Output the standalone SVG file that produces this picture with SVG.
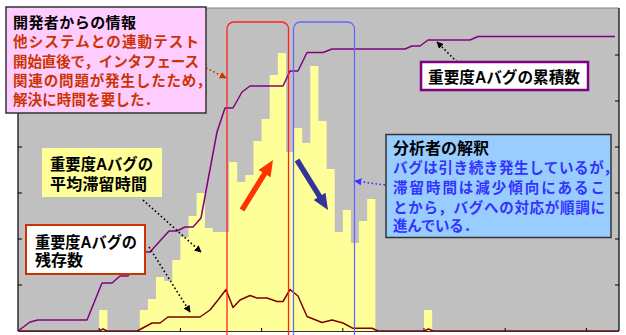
<svg xmlns="http://www.w3.org/2000/svg" width="626" height="335" viewBox="0 0 626 335">
<style>
.t{font-family:"Liberation Sans","Noto Sans CJK JP",sans-serif;font-weight:bold;}
.bar{fill:#FFFF99;}
.tick{stroke:#000;stroke-width:1;}
.dot{fill:none;stroke-width:1.6;stroke-dasharray:1.6 2.4;}
</style>
<defs>
<marker id="ak" viewBox="0 0 10 10" refX="9" refY="5" markerUnits="userSpaceOnUse" markerWidth="7" markerHeight="7" orient="auto"><path d="M0,0 L10,5 L0,10 z" fill="#000"/></marker>
<marker id="ao" viewBox="0 0 10 10" refX="9" refY="5" markerUnits="userSpaceOnUse" markerWidth="7" markerHeight="7" orient="auto"><path d="M0,0 L10,5 L0,10 z" fill="#CC3300"/></marker>
<marker id="ab" viewBox="0 0 10 10" refX="9" refY="5" markerUnits="userSpaceOnUse" markerWidth="7" markerHeight="7" orient="auto"><path d="M0,0 L10,5 L0,10 z" fill="#3333FF"/></marker>
</defs>
<rect width="626" height="335" fill="#fff"/>
<g id="chart">
<rect x="18" y="8" width="601" height="323" fill="#C0C0C0"/>
<g id="bars">
<rect class="bar" x="99.2" y="310" width="8.2" height="21"/>
<path class="bar" d="M139.8,331 V310 H147.9 V299 H156.0 V277 H164.2 V281 H172.3 V260 H180.4 V237 H188.5 V216 H196.6 V193 H204.8 V228 H212.9 V232 H229.1 V162 H237.2 V182 H245.4 V175 H253.5 V141 H261.6 V119 H269.7 V75 H277.8 V53 H286.0 V152 H294.1 V128 H302.2 V143 H310.3 V66 H318.4 V121 H326.6 V169 H334.7 V232 H342.8 V210 H350.9 V243 H359.0 V221 H367.2 V199 H375.4 V331 Z"/>
<rect class="bar" x="424.0" y="310" width="8.2" height="21"/>
</g>
<line x1="18" y1="8" x2="619" y2="8" stroke="#808080" stroke-width="1"/>
<line x1="18" y1="8" x2="18" y2="331" stroke="#000" stroke-width="1.2"/>
<line x1="619" y1="8" x2="619" y2="331" stroke="#000" stroke-width="1.2"/>
<g id="ticks">
<path class="tick" d="M18,285 h4 M18,239 h4 M18,193 h4 M18,147 h4 M18,101 h4 M18,55 h4 M615,285 h4 M615,239 h4 M615,193 h4 M615,147 h4 M615,101 h4 M615,55 h4 M99.2,331 v-3 M180.4,331 v-3 M261.6,331 v-3 M342.8,331 v-3 M424,331 v-3 M505.2,331 v-3 M586.4,331 v-3"/>
</g>
<polyline id="cumulative" fill="none" stroke="#800080" stroke-width="1.5" stroke-linejoin="round" points="18,331 30,322 38,320 87,320 102,283 112,283 120,276 128,276 138,252 150,252 169,231 177,231 185,227 193,227 201,218 208,180 217,132 225,108 233,108 242,92 250,86 283,86 290,71 298,71 307,52.5 323,52.5 332,49 405,49 412,46 420,46 428,40 470,40 478,36.5 615,36.5"/>
<polyline id="remaining" fill="none" stroke="#800000" stroke-width="1.5" stroke-linejoin="round" points="18,331 99,331 103,329 107,331 137,331 140,329.5 152,323 160,323 168,317 200,317 210,310 218,300 226,289.5 233,307.5 240,300 250,295.5 257,298 267,298 277,301.5 283,301.5 290,289.5 298,296 307,316.5 322,322.5 332,320 343,323 353,328.3 372,328.3 378,331 424,331 428.5,329 433,331 619,331"/>
<line x1="18" y1="331.5" x2="619" y2="331.5" stroke="#333" stroke-width="1"/>
</g>
<g id="highlight-red"><rect x="227" y="22" width="61.5" height="330" rx="7" fill="none" stroke="#FF2020" stroke-width="1.3"/></g>
<g id="highlight-blue"><rect x="293.5" y="22" width="61" height="330" rx="7" fill="none" stroke="#6666FF" stroke-width="1.3"/></g>
<g id="trend-up"><polygon points="244.3,211.4 266.9,175 270.5,177.3 273,160 258.6,169.9 262.3,172.2 239.7,208.6" fill="#FF3300"/></g>
<g id="trend-down"><polygon points="299.3,158.6 321.9,195 325.5,192.7 328,210 313.7,200.1 317.3,197.8 294.7,161.4" fill="#333399"/></g>
<g id="connectors">
<line class="dot" x1="206" y1="68" x2="226" y2="78" stroke="#CC3300" marker-end="url(#ao)"/>
<line class="dot" x1="457" y1="62" x2="437" y2="42" stroke="#000" marker-end="url(#ak)"/>
<line class="dot" x1="143" y1="200" x2="201" y2="252" stroke="#000" marker-end="url(#ak)"/>
<line class="dot" x1="149" y1="247" x2="190" y2="312" stroke="#000" marker-end="url(#ak)"/>
<line class="dot" x1="385" y1="185" x2="355" y2="181" stroke="#3333FF" marker-end="url(#ab)"/>
</g>
<g id="developer-info">
<rect x="6" y="7" width="200" height="106" fill="#FFCCFF" stroke="#333" stroke-width="1.5"/>
<text class="t" x="13" y="27.5" font-size="15" fill="#000" textLength="123" lengthAdjust="spacing">開発者からの情報</text>
<g class="t" font-size="14.5" fill="#CC3300">
<text x="13" y="47" textLength="186" lengthAdjust="spacing">他システムとの連動テスト</text>
<text x="13" y="66.5" textLength="186" lengthAdjust="spacing">開始直後で，インタフェース</text>
<text x="13" y="85.5" textLength="198" lengthAdjust="spacing">関連の問題が発生したため，</text>
<text x="13" y="105" textLength="146" lengthAdjust="spacing">解決に時間を要した．</text>
</g>
</g>
<g id="cumulative-label">
<rect x="421" y="62" width="167" height="28" fill="#fff" stroke="#800080" stroke-width="2.5"/>
<text class="t" x="428" y="83" font-size="16" fill="#000" textLength="152" lengthAdjust="spacingAndGlyphs">重要度Aバグの累積数</text>
</g>
<g id="avg-time-label">
<rect x="42" y="148" width="120" height="49" fill="#FFFF99"/>
<text class="t" x="50" y="170" font-size="16" fill="#000" textLength="103" lengthAdjust="spacingAndGlyphs">重要度Aバグの</text>
<text class="t" x="50" y="190" font-size="16" fill="#000" textLength="97" lengthAdjust="spacing">平均滞留時間</text>
</g>
<g id="remaining-label">
<rect x="26" y="225" width="119" height="49" fill="#fff" stroke="#CC3300" stroke-width="2"/>
<text class="t" x="35" y="248" font-size="16" fill="#000" textLength="102" lengthAdjust="spacingAndGlyphs">重要度Aバグの</text>
<text class="t" x="35" y="265.5" font-size="16" fill="#000" textLength="48" lengthAdjust="spacing">残存数</text>
</g>
<g id="analyst-view">
<rect x="386" y="134.5" width="225" height="103" fill="#99CCFF" stroke="#333" stroke-width="1.5"/>
<text class="t" x="393" y="153.5" font-size="16" fill="#000" textLength="96" lengthAdjust="spacing">分析者の解釈</text>
<g class="t" font-size="14.5" fill="#3333FF">
<text x="393" y="172.5" textLength="225" lengthAdjust="spacing">バグは引き続き発生しているが，</text>
<text x="393" y="192.5" textLength="212" lengthAdjust="spacing">滞留時間は減少傾向にあるこ</text>
<text x="393" y="212.5" textLength="212" lengthAdjust="spacing">とから，バグへの対応が順調に</text>
<text x="393" y="231" textLength="85" lengthAdjust="spacing">進んでいる．</text>
</g>
</g>
</svg>
